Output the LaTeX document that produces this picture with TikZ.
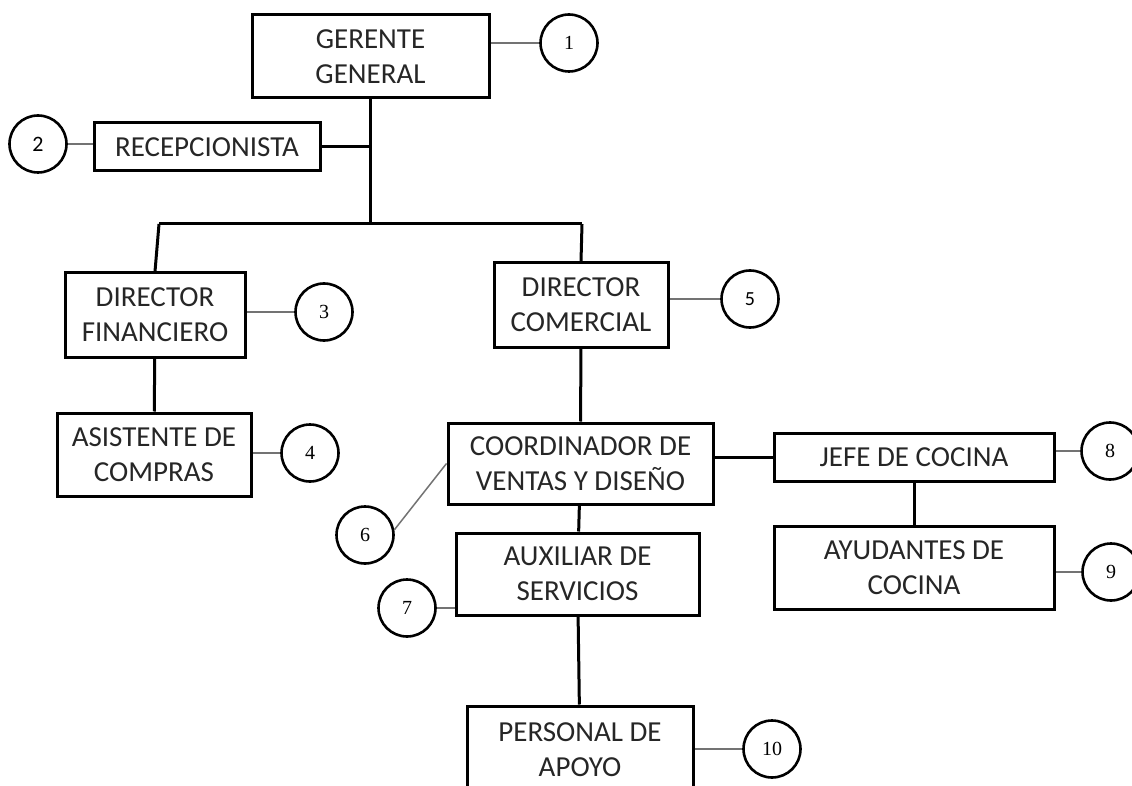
\documentclass[tikz,border=0pt]{standalone}
\usepackage{fontspec}
\setmainfont{Carlito}
\newfontfamily\numfont{Liberation Serif}
\usepackage{tikz}

\begin{document}
\begin{tikzpicture}[x=1pt,y=-1pt,
  puesto/.style={draw, rectangle, line width=3pt, align=center, inner sep=0pt, text=black!85, font=\fontsize{29}{35}\selectfont},
  num/.style={draw, circle, line width=2.6pt, minimum size=57pt, inner sep=0pt, font=\numfont\fontsize{20}{20}\selectfont},
  grueso/.style={line width=3pt},
  fino/.style={line width=1.5pt, color=black!55}]
\useasboundingbox (0,0) rectangle (1132,786);

% puestos
\node[puesto, minimum width=237pt, minimum height=83pt] (gerente) at (370.5,56.5) {GERENTE\\GENERAL};
\node[puesto, minimum width=226pt, minimum height=48pt] (recep) at (207,147) {RECEPCIONISTA};
\node[puesto, minimum width=180pt, minimum height=84pt] (dirfin) at (155,315) {DIRECTOR\\FINANCIERO};
\node[puesto, minimum width=194pt, minimum height=83pt] (asist) at (154,454.5) {ASISTENTE DE\\COMPRAS};
\node[puesto, minimum width=174pt, minimum height=84pt] (dircom) at (581,305) {DIRECTOR\\COMERCIAL};
\node[puesto, minimum width=265pt, minimum height=81pt] (coord) at (580.5,463.5) {COORDINADOR DE\\VENTAS Y DISEÑO};
\node[puesto, minimum width=280pt, minimum height=48pt] (jefe) at (914,457) {JEFE DE COCINA};
\node[puesto, minimum width=280pt, minimum height=83pt] (ayud) at (914,567.5) {AYUDANTES DE\\COCINA};
\node[puesto, minimum width=243pt, minimum height=82pt] (auxil) at (577.5,574) {AUXILIAR DE\\SERVICIOS};
\node[puesto, minimum width=226pt, minimum height=88pt] (personal) at (580,750) {PERSONAL DE\\APOYO};

% numeros
\node[num] (c1) at (569,43) {1};
\node[num, font=\fontsize{22}{22}\selectfont] (c2) at (38,144) {2};
\node[num] (c3) at (324,312) {3};
\node[num] (c4) at (310,453) {4};
\node[num, font=\fontsize{20}{20}\selectfont] (c5) at (750,299) {5};
\node[num] (c6) at (365,535) {6};
\node[num] (c7) at (407,608) {7};
\node[num] (c8) at (1110,451) {8};
\node[num] (c9) at (1111,572) {9};
\node[num] (c10) at (772,749) {10};

\coordinate (barL) at (159,224);
\coordinate (barR) at (582,224);

\draw[grueso] (gerente.south) -- (gerente.south |- barL);
\draw[grueso] (recep.east) -- (recep.east -| gerente.south);
\draw[grueso] (barL) -- (barR);
\draw[grueso] (barL) -- (dirfin.north);
\draw[grueso] (barR) -- (dircom.north);
\draw[grueso] (dirfin) -- (asist);
\draw[grueso] (dircom) -- (coord);
\draw[grueso] (coord.east |- jefe.west) -- (jefe.west);
\draw[grueso] (jefe) -- (ayud);
\draw[grueso] (coord) -- (auxil);
\draw[grueso] (auxil) -- (personal);

\draw[fino] (c1) -- (c1 -| gerente.east);
\draw[fino] (c2) -- (c2 -| recep.west);
\draw[fino] (c3) -- (c3 -| dirfin.east);
\draw[fino] (c4) -- (c4 -| asist.east);
\draw[fino] (c5) -- (c5 -| dircom.east);
\draw[fino] (c6.10) -- (coord.west);
\draw[fino] (c7) -- (c7 -| auxil.west);
\draw[fino] (c8) -- (c8 -| jefe.east);
\draw[fino] (c9) -- (c9 -| ayud.east);
\draw[fino] (c10) -- (c10 -| personal.east);

\end{tikzpicture}
\end{document}
